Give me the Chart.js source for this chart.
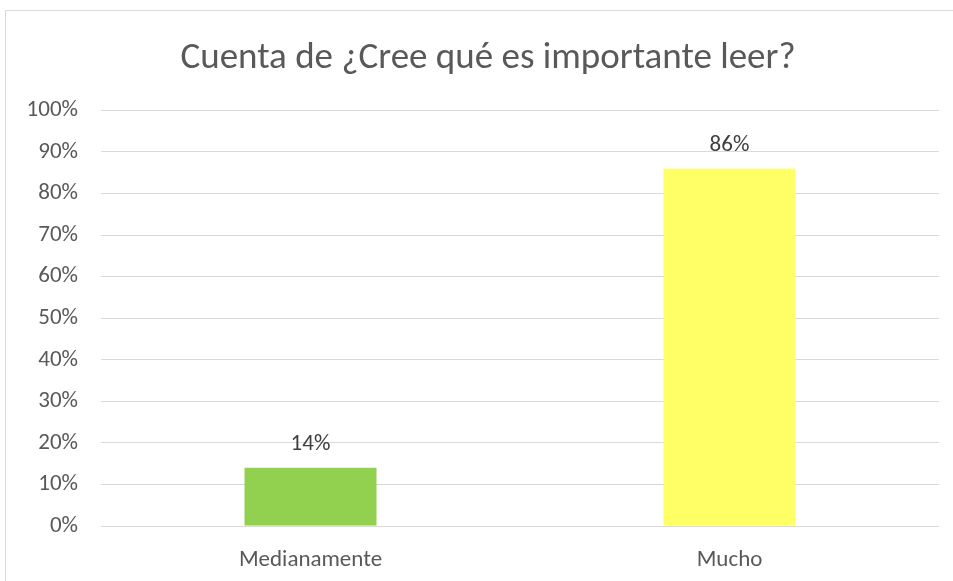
<!DOCTYPE html>
<html>
<head>
<meta charset="utf-8">
<script src="https://cdn.jsdelivr.net/npm/chart.js@4"></script>
<style>
    html, body { margin: 0; padding: 0; background: #fff; overflow: hidden; }
    #frame {
        position: absolute; left: 5px; top: 10px;
        width: 964px; height: 580px;
        border: 1px solid #d9d9d9; box-sizing: border-box;
    }
    #barChart { position: absolute; left: 0; top: 0; }
</style>
</head>
<body>
<div id="frame"><canvas id="barChart" width="964" height="571"></canvas></div>
<script>
const categories = ['Medianamente', 'Mucho'];
const percentValues = [14, 86];
const barColors = ['#92d050', '#ffff66'];
const chartTitle = 'Cuenta de ¿Cree qué es importante leer?';

const FONT = "Carlito, 'Liberation Sans Narrow', 'Open Sans', sans-serif";

// draws the % label above each bar
const valueLabels = {
    id: 'valueLabels',
    afterDatasetsDraw(chart) {
        const ctx = chart.ctx;
        const meta = chart.getDatasetMeta(0);
        ctx.save();
        ctx.font = '23px ' + FONT;
        ctx.fillStyle = '#404040';
        ctx.textAlign = 'center';
        ctx.textBaseline = 'alphabetic';
        meta.data.forEach((bar, i) => {
            ctx.fillText(percentValues[i] + '%', bar.x, bar.y - 18);
        });
        ctx.restore();
    }
};

document.addEventListener('DOMContentLoaded', () => {
    const ctx = document.getElementById('barChart').getContext('2d');
    new Chart(ctx, {
        type: 'bar',
        data: {
            labels: categories,
            datasets: [{
                data: percentValues,
                backgroundColor: barColors,
                borderWidth: 0,
                categoryPercentage: 1,
                barPercentage: 0.315
            }]
        },
        options: {
            responsive: false,
            animation: false,
            layout: { padding: { top: 0, right: 0, bottom: 14, left: 0 } },
            plugins: {
                legend: { display: false },
                tooltip: { enabled: false },
                title: {
                    display: true,
                    text: chartTitle,
                    color: '#595959',
                    font: { family: FONT, size: 37, weight: 'normal' },
                    padding: { top: 26, bottom: 29 }
                }
            },
            scales: {
                x: {
                    afterFit: (scale) => { scale.height = 42; },
                    grid: { display: false },
                    border: { display: false },
                    ticks: { color: '#595959', font: { family: FONT, size: 23 }, padding: 12 }
                },
                y: {
                    min: 0,
                    max: 100,
                    afterFit: (scale) => { scale.width = 95; },
                    grid: { color: '#d9d9d9', lineWidth: 1, drawTicks: false },
                    border: { display: false },
                    ticks: {
                        stepSize: 10,
                        padding: 23,
                        color: '#595959',
                        font: { family: FONT, size: 23 },
                        callback: (v) => v + '%'
                    }
                },
                // empty right margin, keeps the plot narrower than the title band
                spacer: {
                    type: 'linear',
                    position: 'right',
                    min: 0,
                    max: 100,
                    afterFit: (scale) => { scale.width = 31; },
                    grid: { display: false },
                    border: { display: false },
                    ticks: { display: false }
                }
            }
        },
        plugins: [valueLabels]
    });
});
</script>
</body>
</html>
